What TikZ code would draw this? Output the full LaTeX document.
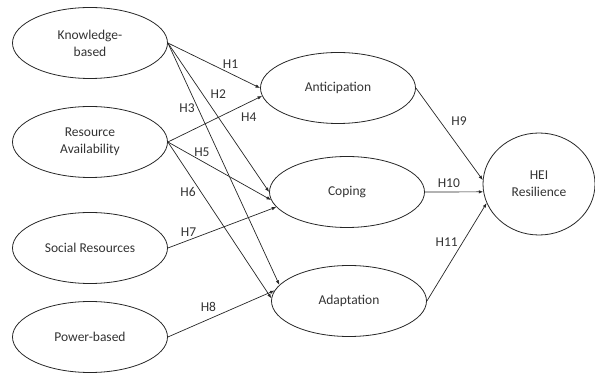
\documentclass[tikz,border=0pt]{standalone}
\usepackage{fontspec}
\setmainfont{Carlito}
\usetikzlibrary{arrows.meta,shapes.geometric}
\tikzset{%
  >={Latex[width=3.5pt,length=4.5pt]},
  % Specifications for style of nodes:
     base/.style = {ellipse, draw=black!85, line width=0.8pt, inner sep=0pt,
                           minimum width=155pt, minimum height=71pt,
                           text centered, text=black!80,
                           font=\fontsize{13.5}{17}\selectfont},
    antecedent/.style = {base},
    capacity/.style = {base},
    resilienceOutcome/.style = {base, minimum width=112pt, minimum height=102pt},
    hypothesis/.style = {inner sep=1pt, text=black!80,
                           font=\fontsize{13.5}{16}\selectfont},
    link/.style = {->, draw=black!85, line width=0.7pt},
}

\begin{document}
\begin{tikzpicture}[x=1pt, y=-1pt, align=center]
  \useasboundingbox (0,0) rectangle (595,374);
  % Specification of nodes (position, etc.)
  \node (knowledgeBased)  [antecedent] at (90,43)  {Knowledge-\\based};
  \node (resourceAvail)   [antecedent] at (90,142) {Resource\\Availability};
  \node (socialRes)       [antecedent] at (90,248) {Social Resources};
  \node (powerBased)      [antecedent] at (90,337) {Power-based};

  \node (anticipation)    [capacity] at (338,88)  {Anticipation};
  \node (coping)          [capacity] at (347,192) {Coping};
  \node (adaptation)      [capacity] at (349,301) {Adaptation};

  \node (heiResilience)   [resilienceOutcome] at (539,184) {HEI\\Resilience};

  % Specification of lines between nodes specified above
  % with the hypothesis labels
  \draw[link] (knowledgeBased.east) to node[hypothesis, pos=0.68, yshift=9pt] {H1} (anticipation.west);
  \draw[link] (knowledgeBased.east) to node[hypothesis, pos=0.34, xshift=16pt] {H2} (coping.west);
  \draw[link] (knowledgeBased.east) to node[hypothesis, pos=0.27, xshift=-11pt] {H3} (adaptation.167);

  \draw[link] (resourceAvail.east) to node[hypothesis, pos=0.86, yshift=-15pt] {H4} (anticipation.186);
  \draw[link] (resourceAvail.east) to node[hypothesis, pos=0.33, yshift=9pt] {H5} (coping.186);
  \draw[link] (resourceAvail.east) to node[hypothesis, pos=0.32, xshift=-13pt] {H6} (adaptation.178);

  \draw[link] (socialRes.east) to node[hypothesis, pos=0.19, yshift=8pt] {H7} (coping.192.5);
  \draw[link] (powerBased.east) to node[hypothesis, pos=0.38, yshift=12pt] {H8} (adaptation.172);

  \draw[link] (anticipation.east) to node[hypothesis, pos=0.36, xshift=19pt] {H9} (heiResilience.176);
  \draw[link] (coping.east) to node[hypothesis, pos=0.41, yshift=9pt] {H10} (heiResilience.188);
  \draw[link] (adaptation.east) to node[hypothesis, pos=0.6, xshift=-16pt] {H11} (heiResilience.200);

\end{tikzpicture}
\end{document}
